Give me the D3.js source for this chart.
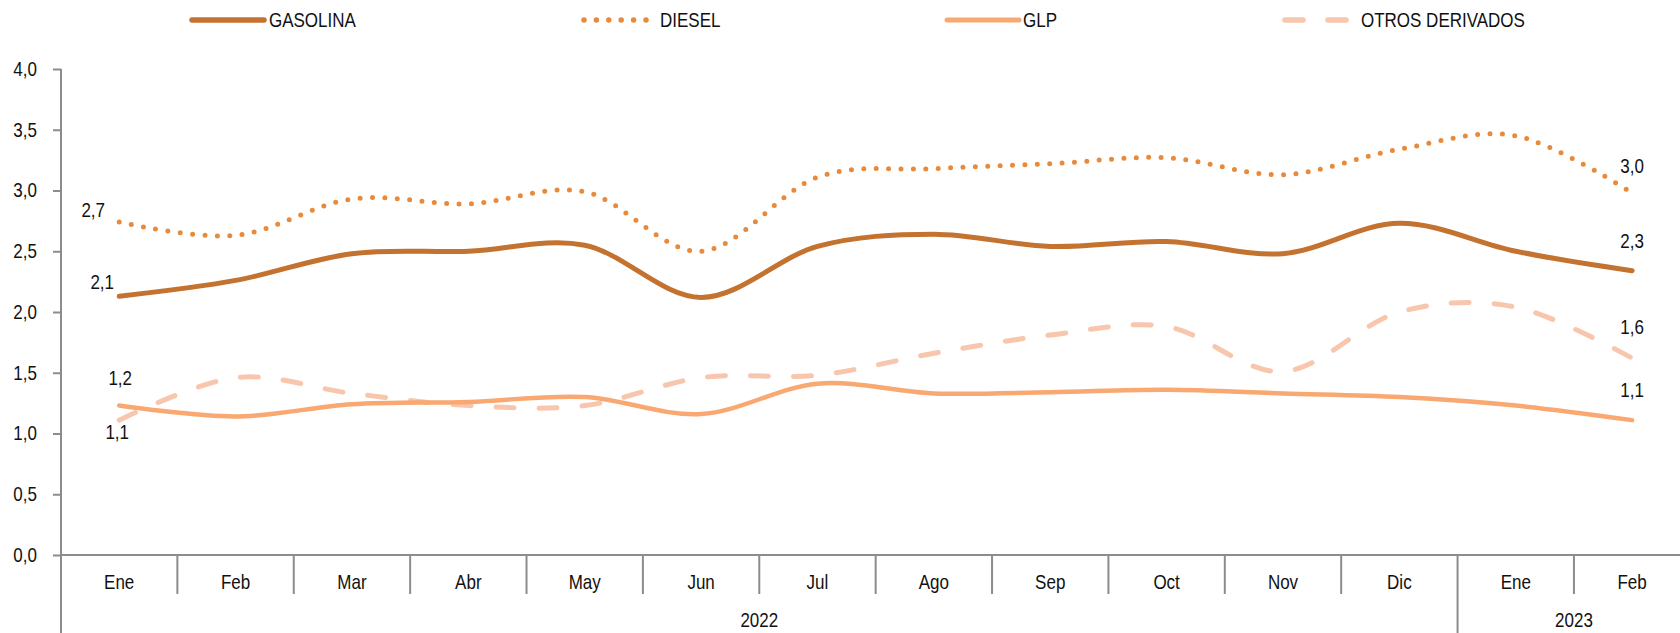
<!DOCTYPE html>
<html lang="es">
<head>
<meta charset="UTF-8">
<title>Derivados</title>
<script src="https://cdn.jsdelivr.net/npm/d3@7"></script>
<style>
  body { margin: 0; background: #fff; }
  text { font-family: "Liberation Sans Narrow", "Arial Narrow", "Liberation Sans", Arial, sans-serif; fill: #111; font-size: 20px; }
</style>
</head>
<body>
<div id="chart"></div>
<script>
// data
const months = ["Ene", "Feb", "Mar", "Abr", "May", "Jun", "Jul", "Ago", "Sep", "Oct", "Nov", "Dic", "Ene", "Feb"];
const years = [{ label: "2022", from: 0, to: 11 }, { label: "2023", from: 12, to: 13 }];
const yTicks = [0, 0.5, 1, 1.5, 2, 2.5, 3, 3.5, 4];

const gasolina = [2.13, 2.26, 2.48, 2.50, 2.55, 2.12, 2.54, 2.64, 2.54, 2.58, 2.48, 2.73, 2.50, 2.34];
const diesel   = [2.74, 2.63, 2.93, 2.89, 2.99, 2.50, 3.11, 3.18, 3.22, 3.27, 3.13, 3.34, 3.45, 2.98];
const glp      = [1.23, 1.14, 1.24, 1.26, 1.30, 1.16, 1.41, 1.33, 1.34, 1.36, 1.33, 1.30, 1.23, 1.11];
const otros    = [1.11, 1.46, 1.33, 1.23, 1.23, 1.46, 1.48, 1.66, 1.81, 1.88, 1.51, 2.00, 2.04, 1.62];

const series = [
  { name: "GASOLINA", values: gasolina, color: "#C47230", width: 5, dash: null, lx: 192, lw: 72, tx: 269,
    start: [-17, -14], end: [0, -30] },
  { name: "DIESEL", values: diesel, color: "#E88A3C", width: 5, dash: "0 12.4", lx: 584, lw: 64, tx: 660,
    start: [-26, -12], end: [0, -27] },
  { name: "GLP", values: glp, color: "#F8A870", width: 4.5, dash: null, lx: 947, lw: 72, tx: 1023,
    start: [1, -28], end: [0, -30] },
  { name: "OTROS DERIVADOS", values: otros, color: "#F8C5AD", width: 5, dash: "18 25", lx: 1285, lw: 64, tx: 1361,
    start: [-2, 12], end: [0, -31] }
];

const W = 1680, H = 633;
const x0 = 61, band = 116.38, yBase = 555, yTop = 69;
const axisColor = "#8c8c8c";
const narrow = 0.85; // the original font is a narrow sans
const fmt = v => d3.format(".1f")(v).replace(".", ",");

const svg = d3.select("#chart").append("svg")
  .attr("width", W).attr("height", H);

// places a narrowed text at (px, py)
function put(sel, px, py) {
  sel.attr("x", 0).attr("y", 0).attr("dy", "0.35em")
    .attr("transform", (d, i) => `translate(${px(d, i)},${py(d, i)}) scale(${narrow},1)`);
  return sel;
}

const x = d3.scaleBand()
  .domain(d3.range(months.length))
  .range([x0, x0 + band * months.length]);

const y = d3.scaleLinear().domain([0, 4]).range([yBase, yTop]);

// y axis
const yAxis = svg.append("g")
  .attr("transform", `translate(${x0},0)`)
  .call(d3.axisLeft(y).tickValues(yTicks).tickFormat(fmt).tickSize(8).tickSizeOuter(0));
yAxis.select(".domain").remove();
yAxis.selectAll(".tick line").attr("stroke", axisColor).attr("stroke-width", 2);
yAxis.selectAll(".tick text").attr("x", -24 / narrow).attr("transform", `scale(${narrow},1)`)
  .style("font-size", "20px").attr("fill", "#111");

svg.append("line")
  .attr("x1", x0).attr("x2", x0).attr("y1", yTop).attr("y2", H)
  .attr("stroke", axisColor).attr("stroke-width", 2);

// x axis
svg.append("line")
  .attr("x1", x0).attr("x2", x0 + band * months.length).attr("y1", yBase).attr("y2", yBase)
  .attr("stroke", axisColor).attr("stroke-width", 2);

const yearStarts = years.map(d => d.from);
svg.append("g").selectAll("line")
  .data(d3.range(1, months.length))
  .join("line")
  .attr("x1", i => x(i)).attr("x2", i => x(i))
  .attr("y1", yBase).attr("y2", i => yearStarts.includes(i) ? H : 594)
  .attr("stroke", axisColor).attr("stroke-width", 2);

svg.append("g").selectAll("text")
  .data(months)
  .join("text")
  .attr("text-anchor", "middle")
  .text(d => d)
  .call(put, (d, i) => x(i) + x.bandwidth() / 2, () => 582);

svg.append("g").selectAll("text")
  .data(years)
  .join("text")
  .attr("text-anchor", "middle")
  .text(d => d.label)
  .call(put, d => (x(d.from) + x(d.to) + x.bandwidth()) / 2, () => 620);

// lines
const line = d3.line()
  .x((d, i) => x(i) + x.bandwidth() / 2)
  .y(d => y(d))
  .curve(d3.curveCatmullRom.alpha(0));

svg.append("g").selectAll("path")
  .data(series.slice().reverse())
  .join("path")
  .attr("d", d => line(d.values))
  .attr("fill", "none")
  .attr("stroke", d => d.color)
  .attr("stroke-width", d => d.width)
  .attr("stroke-linecap", "round")
  .attr("stroke-dasharray", d => d.dash);

// data labels at first and last point
const last = months.length - 1;
const labels = [];
series.forEach(s => {
  labels.push({ i: 0, v: s.values[0], off: s.start });
  labels.push({ i: last, v: s.values[last], off: s.end });
});
svg.append("g").selectAll("text")
  .data(labels)
  .join("text")
  .attr("text-anchor", "middle")
  .text(d => fmt(d.v))
  .call(put, d => x(d.i) + x.bandwidth() / 2 + d.off[0], d => y(d.v) + d.off[1]);

// legend
const legend = svg.append("g").selectAll("g")
  .data(series)
  .join("g");
legend.append("line")
  .attr("x1", d => d.lx).attr("x2", d => d.lx + d.lw)
  .attr("y1", 20).attr("y2", 20)
  .attr("stroke", d => d.color)
  .attr("stroke-width", d => d.width + 0.5)
  .attr("stroke-linecap", "round")
  .attr("stroke-dasharray", d => d.dash);
legend.append("text")
  .text(d => d.name)
  .call(put, d => d.tx, () => 20);
</script>
</body>
</html>
